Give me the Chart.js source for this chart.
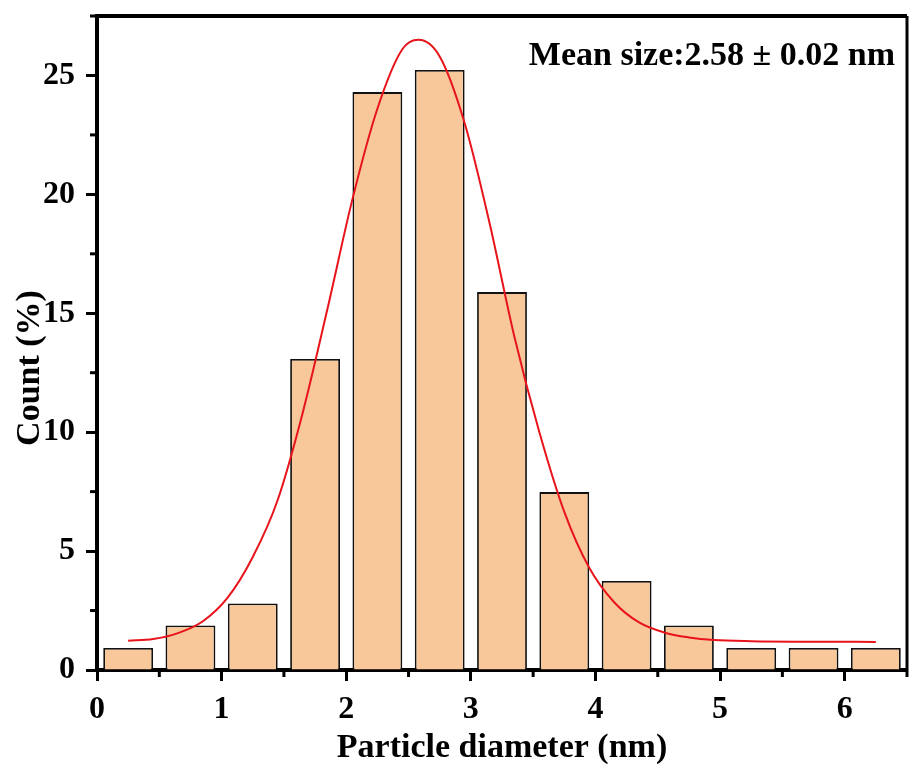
<!DOCTYPE html>
<html><head><meta charset="utf-8">
<script src="https://cdn.jsdelivr.net/npm/chart.js@4.4.0/dist/chart.umd.min.js"></script>
<style>html,body{margin:0;padding:0;background:#fff}#wrap{width:909px;height:765px;position:relative}</style>
</head><body><div id="wrap"><canvas id="c" width="909" height="765"></canvas></div>
<script>
// ---- data ----
const binCenters = [0.25, 0.75, 1.25, 1.75, 2.25, 2.75, 3.25, 3.75, 4.25, 4.75, 5.25, 5.75, 6.25];
const counts = [0.93, 1.87, 2.80, 13.08, 24.30, 25.23, 15.89, 7.48, 3.74, 1.87, 0.93, 0.93, 0.93];
const fitX = [0.25, 0.45, 0.65, 0.85, 1.05, 1.25, 1.45, 1.65, 1.85, 2.05, 2.25, 2.45, 2.58, 2.75, 2.95, 3.15, 3.35, 3.55, 3.75, 3.95, 4.15, 4.35, 4.55, 4.75, 4.95, 5.25, 5.75, 6.25];
const fitY = [1.23, 1.30, 1.55, 2.05, 3.05, 4.75, 7.15, 10.8, 15.2, 19.8, 23.6, 26.1, 26.5, 25.8, 23.0, 18.8, 14.0, 10.0, 6.65, 4.3, 2.85, 2.0, 1.58, 1.37, 1.26, 1.21, 1.19, 1.18];
const xTicks = [0, 1, 2, 3, 4, 5, 6];
const yTicks = [0, 5, 10, 15, 20, 25];
const xMinorTicks = [0.5, 1.5, 2.5, 3.5, 4.5, 5.5, 6.5];
const yMinorTicks = [2.5, 7.5, 12.5, 17.5, 22.5, 27.5];
const annotationText = 'Mean size:2.58 ± 0.02 nm';
const xTitle = 'Particle diameter (nm)';
const yTitle = 'Count (%)';

const FONT = 'Liberation Serif';
const barData = binCenters.map((x, i) => ({x: x, y: counts[i]}));
const fitData = fitX.map((x, i) => ({x: x, y: fitY[i]}));

const framePlugin = {
  id: 'frame',
  afterDraw(chart) {
    const ctx = chart.ctx, a = chart.chartArea;
    const xs = chart.scales.x, ys = chart.scales.y;
    ctx.save();
    ctx.strokeStyle = '#000';
    // top and right frame
    ctx.lineWidth = 4;
    ctx.beginPath(); ctx.moveTo(a.left - 2, a.top); ctx.lineTo(a.right, a.top); ctx.stroke();
    ctx.lineWidth = 3;
    ctx.beginPath(); ctx.moveTo(a.right, a.top); ctx.lineTo(a.right, a.bottom); ctx.stroke();
    // minor ticks
    ctx.lineWidth = 3;
    xMinorTicks.forEach(v => {
      const px = xs.getPixelForValue(v);
      ctx.beginPath(); ctx.moveTo(px, a.bottom); ctx.lineTo(px, a.bottom + 7); ctx.stroke();
    });
    yMinorTicks.forEach(v => {
      const py = ys.getPixelForValue(v);
      ctx.beginPath(); ctx.moveTo(a.left, py); ctx.lineTo(a.left - 7, py); ctx.stroke();
    });
    ctx.fillStyle = '#000';
    // annotation
    ctx.font = 'bold 34px "' + FONT + '"';
    ctx.textAlign = 'right';
    ctx.textBaseline = 'alphabetic';
    ctx.fillText(annotationText, a.right - 12, a.top + 49);
    // y axis title
    ctx.save();
    ctx.translate(39, (a.top + a.bottom) / 2 + 25);
    ctx.rotate(-Math.PI / 2);
    ctx.textAlign = 'center';
    ctx.textBaseline = 'alphabetic';
    ctx.fillText(yTitle, 0, 0);
    ctx.restore();
    ctx.restore();
  }
};

new Chart(document.getElementById('c'), {
  data: {
    datasets: [
      {
        type: 'line',
        data: fitData,
        borderColor: '#E8141B',
        borderWidth: 2,
        pointRadius: 0,
        cubicInterpolationMode: 'monotone',
        fill: false,
        order: 0
      },
      {
        type: 'bar',
        data: barData,
        backgroundColor: '#F9C89A',
        borderColor: '#111',
        borderWidth: 1.8,
        barPercentage: 0.8,
        categoryPercentage: 1.0,
        order: 1
      }
    ]
  },
  options: {
    responsive: false,
    animation: false,
    devicePixelRatio: 1,
    layout: {padding: {top: 16, right: 2, left: 0, bottom: 0}},
    plugins: {legend: {display: false}, tooltip: {enabled: false}},
    scales: {
      x: {
        type: 'linear', min: 0, max: 6.5, offset: false,
        afterBuildTicks: s => { s.ticks = xTicks.map(v => ({value: v})); },
        afterFit: s => { s.height = 95; s.paddingLeft = 0; s.paddingRight = 0; },
        ticks: {color: '#000', font: {family: FONT, size: 32, weight: 'bold'}, padding: 10, maxRotation: 0},
        grid: {drawOnChartArea: false, offset: false, tickLength: 11, tickWidth: 3, color: '#000'},
        border: {display: true, width: 4, color: '#000'},
        title: {display: true, text: xTitle, color: '#000', font: {family: FONT, size: 34, weight: 'bold', lineHeight: 1}, padding: {top: 0, bottom: 0}}
      },
      y: {
        type: 'linear', min: 0, max: 27.5,
        afterBuildTicks: s => { s.ticks = yTicks.map(v => ({value: v})); },
        afterFit: s => { s.width = 97; s.paddingTop = 0; s.paddingBottom = 0; },
        ticks: {color: '#000', font: {family: FONT, size: 32, weight: 'bold'}, padding: 11},
        grid: {drawOnChartArea: false, tickLength: 11, tickWidth: 3, color: '#000'},
        border: {display: true, width: 4, color: '#000'},
        title: {display: false}
      }
    }
  },
  plugins: [framePlugin]
});
</script></body></html>
